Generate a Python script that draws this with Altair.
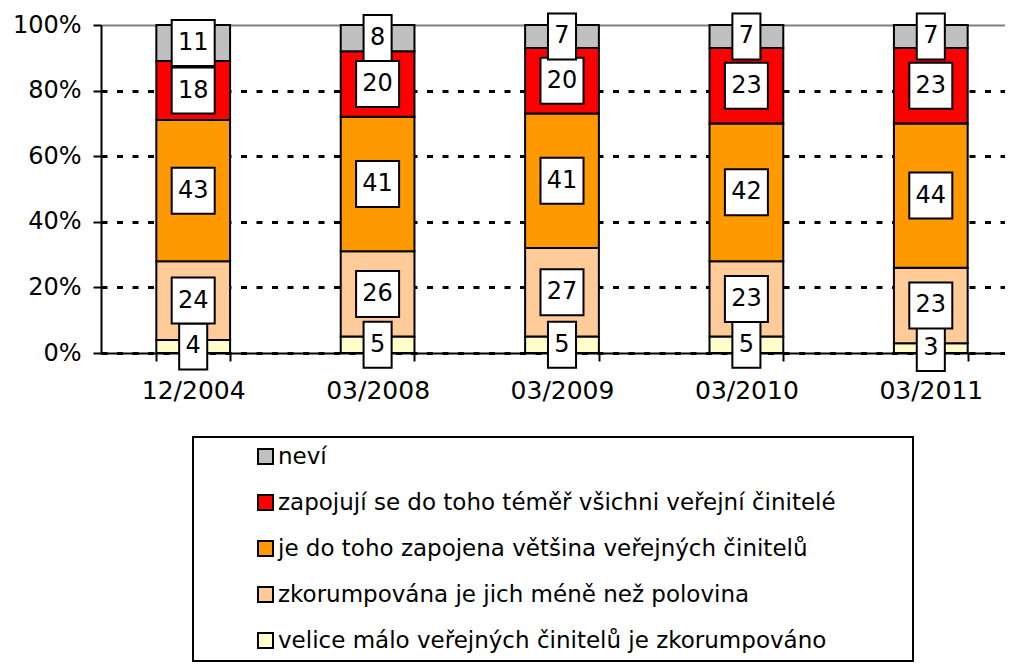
import altair as alt
import pandas as pd

periods = ["12/2004", "03/2008", "03/2009", "03/2010", "03/2011"]

# series, bottom of stack first
cat_velice = "velice málo veřejných činitelů je zkorumpováno"
cat_zkorump = "zkorumpována je jich méně než polovina"
cat_vetsina = "je do toho zapojena většina veřejných činitelů"
cat_vsichni = "zapojují se do toho téměř všichni veřejní činitelé"
cat_nevi = "neví"

velice = [4, 5, 5, 5, 3]
zkorump = [24, 26, 27, 23, 23]
vetsina = [43, 41, 41, 42, 44]
vsichni = [18, 20, 20, 23, 23]
nevi = [11, 8, 7, 7, 7]

stack_order = [cat_velice, cat_zkorump, cat_vetsina, cat_vsichni, cat_nevi]
series = [velice, zkorump, vetsina, vsichni, nevi]
legend_order = [cat_nevi, cat_vsichni, cat_vetsina, cat_zkorump, cat_velice]
legend_colors = ["#C0C0C0", "#FF0000", "#FF9900", "#FFCC99", "#FFFFCC"]

rows = []
for o, (cat, vals) in enumerate(zip(stack_order, series)):
    for p, v in zip(periods, vals):
        rows.append({"period": p, "cat": cat, "ord": o, "value": v})
df = pd.DataFrame(rows)

FONT = "DejaVu Sans"

box1 = "M-0.61,-1H0.61V1H-0.61Z"
box2 = "M-0.935,-1H0.935V1H-0.935Z"

base = alt.Chart(df).transform_stack(
    stack="value",
    groupby=["period"],
    sort=[alt.SortField("ord", order="ascending")],
    as_=["y0", "y1"],
).transform_calculate(
    mid="(datum.y0 + datum.y1) / 2",
    nd="toString(length(toString(datum.value)))",
)

x_enc = alt.X(
    "period:N",
    sort=periods,
    title=None,
    scale=alt.Scale(range=[0, 922], paddingInner=0.6, paddingOuter=0.3),
    axis=alt.Axis(
        tickBand="extent",
        tickSize=8,
        labelPadding=17,
        labelAngle=0,
        labelFontSize=25,
        grid=False,
    ),
)

bars = base.mark_bar(stroke="black", strokeWidth=2).encode(
    x=x_enc,
    y=alt.Y(
        "y0:Q",
        title=None,
        scale=alt.Scale(domain=[0, 100], nice=False),
        axis=alt.Axis(
            values=[0, 20, 40, 60, 80, 100],
            labelExpr="datum.value + '%'",
            tickSize=8,
            labelPadding=12,
            labelFontSize=24,
            grid=True,
            gridColor={"condition": {"test": "datum.value === 100", "value": "#808080"}, "value": "black"},
            gridDash={"condition": {"test": "datum.value === 100", "value": []}, "value": [6, 9.5]},
            gridWidth={"condition": {"test": "datum.value === 100", "value": 2}, "value": 3},
        ),
    ),
    y2="y1:Q",
    color=alt.Color(
        "cat:N",
        scale=alt.Scale(domain=legend_order, range=legend_colors),
        legend=alt.Legend(
            title=" ",
            titleOrient="right",
            titlePadding=69,
            titleFontSize=6,
            orient="none",
            legendX=92,
            legendY=412,
            padding=8,
            rowPadding=22,
            symbolType="square",
            symbolSize=225,
            symbolStrokeColor="black",
            symbolStrokeWidth=2,
            symbolOffset=53,
            labelOffset=1,
            labelFontSize=23,
            labelFont=FONT,
            labelColor="black",
            labelLimit=0,
            strokeColor="black",
        ),
    ),
)

boxes = base.mark_point(
    filled=True, fill="white", stroke="black", strokeWidth=2, opacity=1, size=2116
).encode(
    x=x_enc,
    y=alt.Y("mid:Q", title=None),
    shape=alt.Shape("nd:N", scale=alt.Scale(domain=["1", "2"], range=[box1, box2]), legend=None),
)

texts = base.mark_text(fontSize=24, font=FONT, color="black", baseline="middle").encode(
    x=x_enc,
    y=alt.Y("mid:Q", title=None),
    text="value:Q",
)

chart = alt.layer(bars, boxes, texts).properties(
    width=904,
    height=328,
    autosize=alt.AutoSizeParams(type="none"),
    padding={"left": 93, "top": 17, "right": 0, "bottom": 310},
).configure_view(stroke=None).configure_axis(
    domainColor="black",
    domainWidth=2,
    tickColor="black",
    tickWidth=2,
    labelFont=FONT,
    labelColor="black",
).configure_legend(strokeWidth=2)

chart.save("out.html", embed_options={"renderer": "svg", "actions": False})
